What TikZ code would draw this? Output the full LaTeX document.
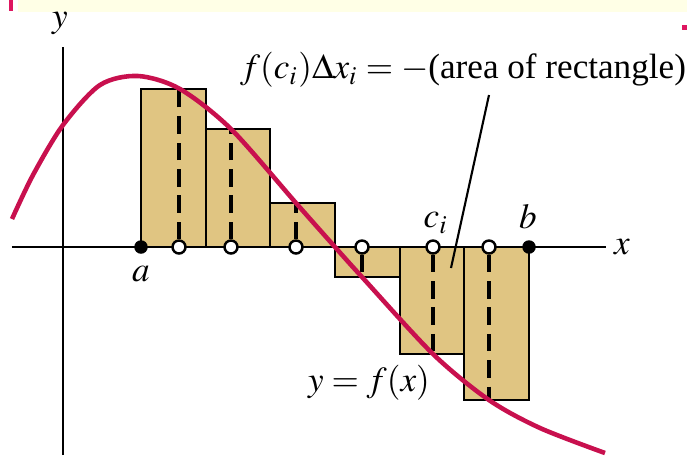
\documentclass[tikz,border=0pt]{standalone}
\usepackage{mathptmx}
\usepackage{fontspec}
\setmainfont{Liberation Serif}
\usetikzlibrary{positioning}

\definecolor{rectfill}{RGB}{224,197,130}
\definecolor{curvered}{RGB}{200,16,78}
\definecolor{bandyellow}{RGB}{255,255,230}
\definecolor{markred}{RGB}{222,22,96}

\begin{document}
\begin{tikzpicture}[every node/.style={font=\normalsize},
    rect/.style={fill=rectfill, draw=black, line width=0.8pt},
    axis/.style={line width=0.7pt},
    fcurve/.style={draw=curvered, line width=1.3pt},
    dashes/.style={dash pattern=on 5pt off 2.5pt, line width=0.9pt},
    dot/.style={circle, fill=black, inner sep=0pt, minimum size=1.35mm},
    opendot/.style={circle, draw=black, fill=white, line width=0.7pt, inner sep=0pt, minimum size=1.3mm}]
  \useasboundingbox (-0.63,-2.08) rectangle (6.24,2.47);

  % strip of the page at the top
  \fill[bandyellow] (-0.45,2.35) rectangle (6.24,2.47);
  \fill[markred] (-0.54,2.36) rectangle (-0.50,2.47);
  \fill[markred] (6.19,2.17) rectangle (6.24,2.22);

  % rectangles: left/right/height/sample point
  \foreach \l/\r/\h/\c [count=\i] in {0.78/1.43/1.58/1.16, 1.43/2.07/1.18/1.68,
      2.07/2.72/0.44/2.33, 2.72/3.37/-0.30/2.99, 3.37/4.01/-1.07/3.70, 4.01/4.66/-1.53/4.26} {
    \filldraw[rect] (\l,0) rectangle (\r,\h);
    \coordinate (t\i) at (\c,\h);
  }

  % axes
  \coordinate (xl) at (-0.51,0);
  \coordinate (xr) at (5.43,0);
  \coordinate (yb) at (0,-2.08);
  \coordinate (yt) at (0,2.0);
  \draw[axis] (xl) -- (xr);
  \draw[axis] (yb) -- (yt);
  \node (xlab) at (5.59,0) {$x$};
  \node (ylab) at (-0.03,2.24) {$y$};

  % sample points c_i with dashed heights
  \foreach \c [count=\i] in {1.16,1.68,2.33,2.99,3.70,4.26} {
    \node[opendot] (c\i) at (\c,0) {};
    \draw[dashes] (c\i) -- (t\i);
  }

  % the graph of f
  \draw[fcurve] plot[smooth] coordinates {(-0.51,0.28) (-0.30,0.72) (0,1.22) (0.37,1.62)
    (0.75,1.71) (1.17,1.58) (1.68,1.18) (2.33,0.44) (2.72,0) (2.99,-0.30) (3.70,-1.07)
    (4.26,-1.53) (4.77,-1.81) (5.42,-2.06)};

  % end points
  \node[dot] (a) at (0.78,0) {};
  \node[dot] (b) at (4.66,0) {};
  \node (alab) at (0.78,-0.27) {$a$};
  \node (blab) at (4.65,0.30) {$b$};
  \node (cilab) at (3.73,0.24) {$c_i$};

  % labels
  \node (area) at (4.00,1.77) {$f(c_i)\Delta x_i=-$(area of rectangle)};
  \coordinate (ltop) at (4.26,1.52);
  \coordinate (lbot) at (3.88,-0.21);
  \draw[line width=0.6pt] (ltop) -- (lbot);
  \node (flab) at (3.06,-1.36) {$y=f(x)$};
\end{tikzpicture}
\end{document}
